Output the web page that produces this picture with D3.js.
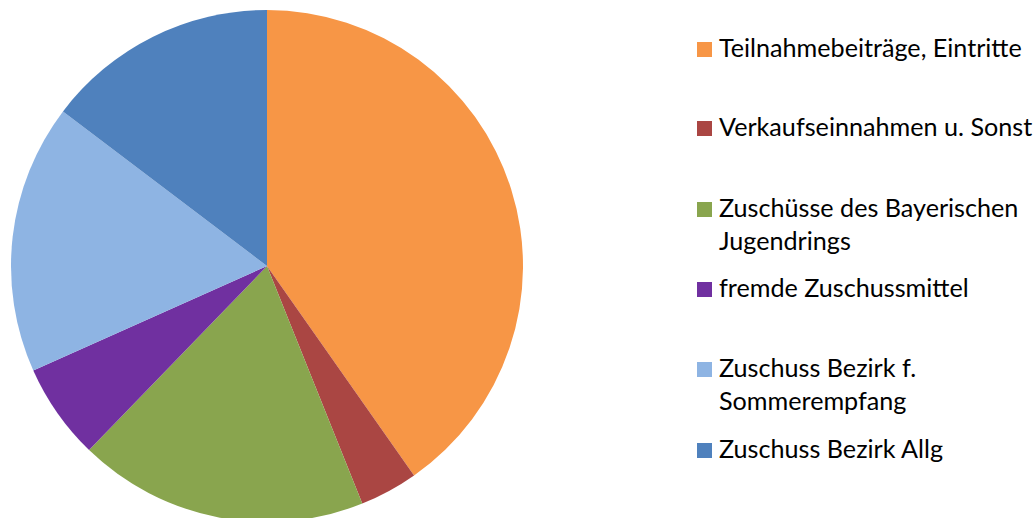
<!DOCTYPE html>
<html><head><meta charset="utf-8">
<script src="https://cdn.jsdelivr.net/npm/d3@7"></script>
<style>html,body{margin:0;padding:0;background:#fff;}svg{display:block;}</style>
</head><body>
<svg id="c" width="1035" height="518"></svg>
<script>
const categories = ["Teilnahmebeiträge, Eintritte","Verkaufseinnahmen u. Sonst","Zuschüsse des Bayerischen Jugendrings","fremde Zuschussmittel","Zuschuss Bezirk f. Sommerempfang","Zuschuss Bezirk Allg"];
const legendLines = [["Teilnahmebeiträge, Eintritte"],["Verkaufseinnahmen u. Sonst"],["Zuschüsse des Bayerischen","Jugendrings"],["fremde Zuschussmittel"],["Zuschuss Bezirk f.","Sommerempfang"],["Zuschuss Bezirk Allg"]];
const values = [40.26, 3.67, 18.30, 6.08, 17.01, 14.68];
const colors = ["#F79646","#AA4643","#89A54E","#7030A0","#8EB4E3","#4F81BD"];

const svg = d3.select("#c");
const cx = 267, cy = 266, r = 256;
const pie = d3.pie().sort(null).value(d => d)(values);
const arc = d3.arc().innerRadius(0).outerRadius(r);
const g = svg.append("g").attr("transform", `translate(${cx},${cy})`);
g.selectAll("path").data(pie).join("path")
  .attr("d", arc).attr("fill", (d,i) => colors[i]);

// legend
const lx = 697, tx = 719;
const baselines = [[57],[136],[217,250],[297],[377,410],[458]];
const fontSize = 20.5;
const lg = svg.append("g");
legendLines.forEach((lines, i) => {
  const b0 = baselines[i][0];
  lg.append("rect").attr("x", lx).attr("y", b0 - 15).attr("width", 15).attr("height", 15).attr("fill", colors[i]);
  lines.forEach((t, j) => {
    lg.append("text").attr("class","lt").attr("x", tx).attr("y", baselines[i][j])
      .attr("font-family", "Lato, 'Open Sans', sans-serif").attr("font-size", fontSize)
      .attr("fill", "#000").text(t);
  });
});
// scale font to match reference width of first label (~303px)
const first = lg.select("text.lt").node();
const w = first.getComputedTextLength();
const fs = fontSize * 303 / w;
lg.selectAll("text.lt").attr("font-size", fs);
</script>
</body></html>
